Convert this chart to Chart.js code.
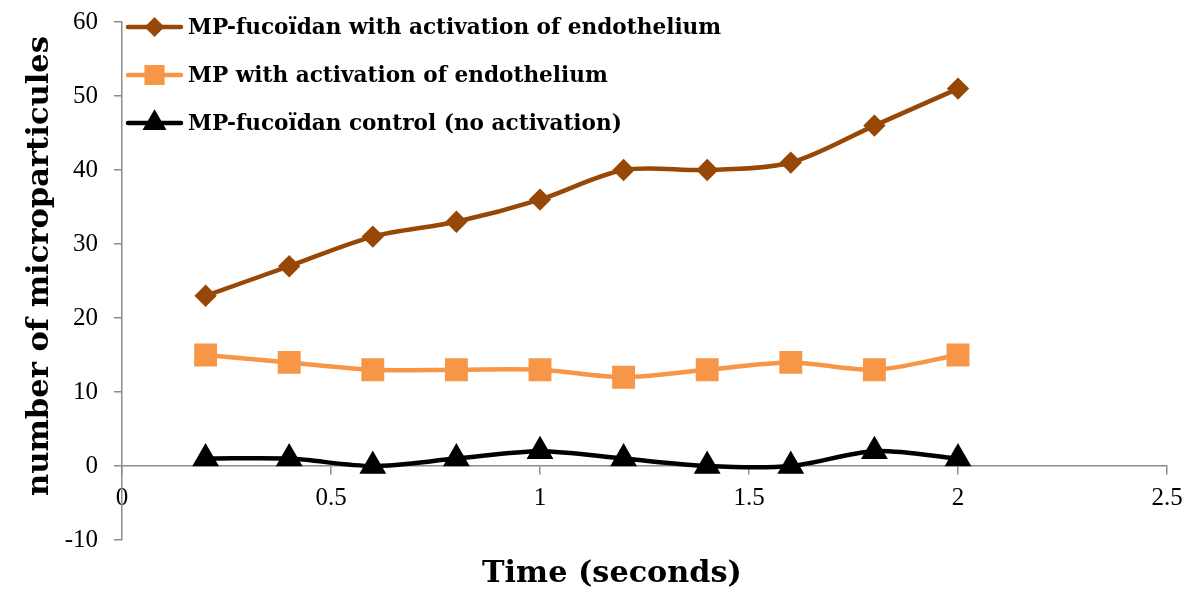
<!DOCTYPE html>
<html>
<head>
<meta charset="utf-8">
<script src="https://cdn.jsdelivr.net/npm/chart.js@4/dist/chart.umd.min.js"></script>
<style>
  html, body { margin: 0; padding: 0; background: #fff; }
  #wrap { width: 1190px; height: 592px; }
</style>
</head>
<body>
<div id="wrap"><canvas id="graphChart"></canvas></div>
<script>
const times = [0.2, 0.4, 0.6, 0.8, 1.0, 1.2, 1.4, 1.6, 1.8, 2.0];
const fucoidanActivated = [23, 27, 31, 33, 36, 40, 40, 41, 46, 51];
const mpActivated = [15, 14, 13, 13, 13, 12, 13, 14, 13, 15];
const fucoidanControl = [1, 1, 0, 1, 2, 1, 0, 0, 2, 1];
const seriesNames = [
  'MP-fucoïdan with activation of endothelium',
  'MP with activation of endothelium',
  'MP-fucoïdan control (no activation)'
];
const xTitle = 'Time (seconds)';
const yTitle = 'number of microparticules';

const serif = "'DejaVu Serif', 'Liberation Serif', serif";
const tickSerif = "'Liberation Serif', 'DejaVu Serif', serif";
const axisGrey = '#8c8c8c';

function toPoints(values) {
  return values.map((v, i) => ({ x: times[i], y: v }));
}

// pick a font size so the text takes the same width as in the original
function fitFont(ctx, text, width, family) {
  ctx.font = "bold 20px " + family;
  const size = 20 * width / ctx.measureText(text).width;
  ctx.font = "bold " + size.toFixed(1) + "px " + family;
}

// legend + axis titles drawn by hand, like the Excel original
const decorations = {
  id: 'decorations',
  afterDraw(chart) {
    const ctx = chart.ctx;
    const area = chart.chartArea;
    ctx.save();

    // legend, top-left inside the plot
    fitFont(ctx, seriesNames[0], 534, serif);
    const legendFont = ctx.font;
    chart.data.datasets.forEach((ds, i) => {
      const y = area.top + 5 + i * 48;
      const x0 = area.left + 6;
      const x1 = area.left + 59;
      ctx.strokeStyle = ds.borderColor;
      ctx.lineWidth = ds.borderWidth;
      ctx.lineCap = 'round';
      ctx.beginPath();
      ctx.moveTo(x0, y);
      ctx.lineTo(x1, y);
      ctx.stroke();
      Chart.helpers.drawPoint(ctx, {
        pointStyle: ds.pointStyle,
        radius: ds.pointRadius * 0.85,
        borderWidth: 1
      }, (x0 + x1) / 2, y);
      ctx.fillStyle = ds.pointBackgroundColor;
      ctx.fill();
      ctx.fillStyle = '#000';
      ctx.font = legendFont;
      ctx.textAlign = 'left';
      ctx.textBaseline = 'middle';
      ctx.fillText(ds.label, x1 + 7, y + 1);
    });

    // axis titles
    ctx.fillStyle = '#000';
    fitFont(ctx, xTitle, 260, serif);
    ctx.textAlign = 'center';
    ctx.textBaseline = 'alphabetic';
    ctx.fillText(xTitle, 612, 582);

    ctx.translate(40, 266);
    ctx.rotate(-Math.PI / 2);
    fitFont(ctx, yTitle, 460, serif);
    ctx.textBaseline = 'middle';
    ctx.fillText(yTitle, 0, 0);
    ctx.restore();
  }
};

const ctx = document.getElementById('graphChart');

new Chart(ctx, {
  type: 'line',
  data: {
    datasets: [
      {
        label: seriesNames[0],
        data: toPoints(fucoidanActivated),
        borderColor: '#974806',
        backgroundColor: '#974806',
        pointBackgroundColor: '#974806',
        pointBorderColor: '#974806',
        pointStyle: 'rectRot',
        pointRadius: 8,
        borderWidth: 4.5,
        tension: 0.3
      },
      {
        label: seriesNames[1],
        data: toPoints(mpActivated),
        borderColor: '#f79646',
        backgroundColor: '#f79646',
        pointBackgroundColor: '#f79646',
        pointBorderColor: '#f79646',
        pointStyle: 'rect',
        pointRadius: 13,
        borderWidth: 4.5,
        tension: 0.3
      },
      {
        label: seriesNames[2],
        data: toPoints(fucoidanControl),
        borderColor: '#000000',
        backgroundColor: '#000000',
        pointBackgroundColor: '#000000',
        pointBorderColor: '#000000',
        pointStyle: 'triangle',
        pointRadius: 11,
        borderWidth: 4.5,
        tension: 0.3
      }
    ]
  },
  options: {
    responsive: true,
    maintainAspectRatio: false,
    animation: false,
    layout: {
      padding: { top: 22, right: 23, bottom: 52, left: 0 }
    },
    plugins: {
      legend: { display: false },
      title: { display: false },
      tooltip: { enabled: false }
    },
    scales: {
      x: {
        type: 'linear',
        position: { y: 0 },
        min: 0,
        max: 2.5,
        afterFit(scale) { scale.paddingLeft = 0; scale.paddingRight = 0; },
        ticks: {
          stepSize: 0.5,
          color: '#000',
          font: { family: tickSerif, size: 25, lineHeight: 1 },
          padding: 12,
          maxRotation: 0,
          callback: (v) => String(+v.toFixed(2))
        },
        grid: {
          drawOnChartArea: false,
          drawTicks: true,
          tickLength: 8,
          color: axisGrey,
          lineWidth: 1.5
        },
        border: { color: axisGrey, width: 1.5 }
      },
      y: {
        min: -10,
        max: 60,
        afterFit(scale) {
          scale.width = 122;
          scale.paddingTop = 0;
          scale.paddingBottom = 0;
        },
        ticks: {
          stepSize: 10,
          color: '#000',
          font: { family: tickSerif, size: 25, lineHeight: 1 },
          padding: 16
        },
        grid: {
          drawOnChartArea: false,
          drawTicks: true,
          tickLength: 8,
          color: axisGrey,
          lineWidth: 1.5
        },
        border: { color: axisGrey, width: 1.5 }
      }
    }
  },
  plugins: [decorations]
});
</script>
</body>
</html>
